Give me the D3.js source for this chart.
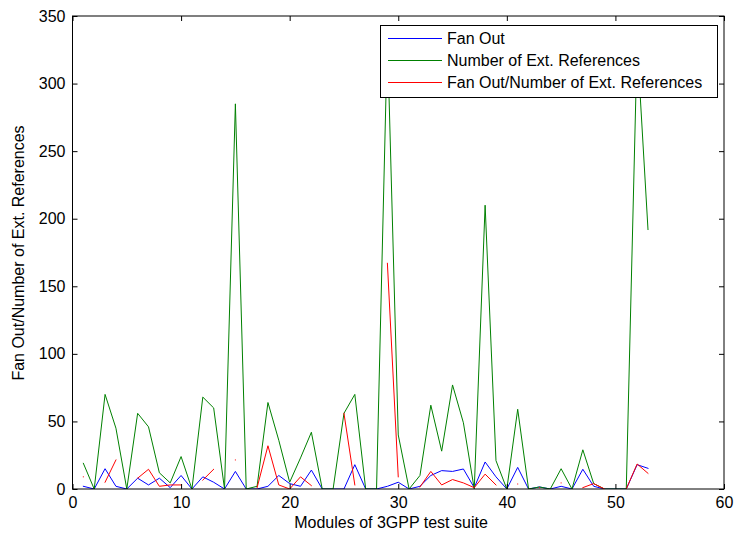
<!DOCTYPE html>
<html>
<head>
<meta charset="utf-8">
<script src="https://cdn.jsdelivr.net/npm/d3@7"></script>
<style>
  body { margin: 0; background: #fff; }
  svg { display: block; font-family: "Liberation Sans", Arial, sans-serif; }
</style>
</head>
<body>
<div id="chart"></div>
<script>
// module numbers 1..53
const modules = d3.range(1, 54);

const fanOut = [2, 0, 15, 2, 0, 8, 3, 8, 1, 10,
  0, 9, 5, 0, 13, 0, 0, 2, 10, 4,
  2, 14, 0, 0, 0, 18, 0, 0, 2, 5,
  0, 2, 10, 13.6, 13, 14.8, 1, 20, 9, 0,
  16, 0, 1.5, 0, 2, 0, 14.6, 2, 0, 0,
  0, 18, 15.3];

const extRefs = [19, 0, 70, 45, 0, 56, 46, 12, 4.5, 24,
  0, 68, 60, 0, 285, 0, 2, 64, 36, 5,
  23, 42, 0, 0, 56, 70, 0, 0, 335, 40,
  0, 10, 62, 28, 77, 49, 0, 210, 21, 0,
  59, 0, 1.5, 0, 15, 0, 29, 4, 0, 0,
  0, 330, 192];

// null = no value (division by zero)
const ratio = [9, null, 5, 21.5, null, 8, 14.6, 2, 3, 3,
  null, 6.6, 14.6, null, 21.5, null, 1, 32, 3, 0,
  9, 2.5, null, null, 56, 3, null, null, 167, 9,
  null, 1.5, 13, 3, 7, 4.5, 1, 11, 3, null,
  3.7, null, 1, null, 4.5, null, 1, 4, 0, null,
  0, 18.5, 11.6];

const xTicks = [0, 10, 20, 30, 40, 50, 60];
const yTicks = [0, 50, 100, 150, 200, 250, 300, 350];

const seriesNames = ['Fan Out', 'Number of Ext. References', 'Fan Out/Number of Ext. References'];
const seriesColors = ['#0000ff', '#008000', '#ff0000'];

const createGraph = () => {
  const width = 734;
  const height = 542;
  const left = 72.5, right = 724, top = 16, bottom = 489;

  const x = d3.scaleLinear().domain([0, 60]).range([left, right]);
  const y = d3.scaleLinear().domain([0, 350]).range([bottom, top]);

  const svg = d3.select('#chart').append('svg')
    .attr('width', width)
    .attr('height', height);

  svg.append('defs').append('clipPath')
    .attr('id', 'plot')
    .append('rect')
    .attr('x', left).attr('y', top)
    .attr('width', right - left).attr('height', bottom - top);

  const series = [fanOut, extRefs, ratio];

  const line = d3.line()
    .defined(d => d != null)
    .x((d, i) => x(modules[i]))
    .y(d => y(d));

  svg.append('g')
    .attr('clip-path', 'url(#plot)')
    .selectAll('path')
    .data(series)
    .enter().append('path')
    .attr('d', line)
    .attr('fill', 'none')
    .attr('stroke', (d, i) => seriesColors[i])
    .attr('stroke-width', 1)
    .attr('stroke-linecap', 'square');

  // axes, ticks pointing inward like matlab
  const styleAxis = g => {
    g.select('.domain').remove();
    g.selectAll('line').attr('stroke', '#000');
    g.selectAll('text').attr('fill', '#000').style('font-size', '16px');
  };

  svg.append('g')
    .attr('transform', `translate(0,${bottom})`)
    .call(d3.axisBottom(x).tickValues(xTicks).tickSizeInner(-5).tickSizeOuter(0).tickPadding(8))
    .call(styleAxis);

  svg.append('g')
    .attr('transform', `translate(0,${top})`)
    .call(d3.axisTop(x).tickValues(xTicks).tickSizeInner(-5).tickSizeOuter(0).tickFormat(''))
    .call(styleAxis);

  svg.append('g')
    .attr('transform', `translate(${left},0)`)
    .call(d3.axisLeft(y).tickValues(yTicks).tickSizeInner(-5).tickSizeOuter(0).tickPadding(7))
    .call(styleAxis);

  svg.append('g')
    .attr('transform', `translate(${right},0)`)
    .call(d3.axisRight(y).tickValues(yTicks).tickSizeInner(-5).tickSizeOuter(0).tickFormat(''))
    .call(styleAxis);

  svg.append('rect')
    .attr('x', left).attr('y', top)
    .attr('width', right - left).attr('height', bottom - top)
    .attr('fill', 'none')
    .attr('stroke', '#000');

  svg.append('text')
    .attr('x', 391)
    .attr('y', 528)
    .attr('text-anchor', 'middle')
    .style('font-size', '16px')
    .text('Modules of 3GPP test suite');

  svg.append('text')
    .attr('transform', 'translate(24,253) rotate(-90)')
    .attr('text-anchor', 'middle')
    .style('font-size', '16px')
    .text('Fan Out/Number of Ext. References');

  // legend
  const legend = svg.append('g').attr('transform', 'translate(380,25)');
  legend.append('rect')
    .attr('x', 0.5).attr('y', 0.5)
    .attr('width', 337).attr('height', 72)
    .attr('fill', '#fff')
    .attr('stroke', '#000');

  const item = legend.selectAll('.item')
    .data(seriesNames)
    .enter().append('g')
    .attr('class', 'item')
    .attr('transform', (d, i) => `translate(0,${13.5 + i * 22})`);

  item.append('line')
    .attr('x1', 8).attr('x2', 62)
    .attr('stroke', (d, i) => seriesColors[i]);

  item.append('text')
    .attr('x', 67)
    .attr('dy', '0.35em')
    .style('font-size', '16px')
    .text(d => d);
};

createGraph();
</script>
</body>
</html>
